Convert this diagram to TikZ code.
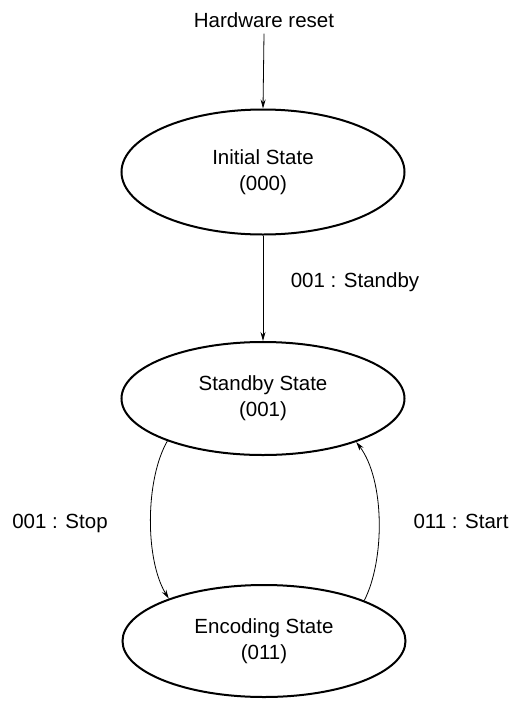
\documentclass[tikz,border=0pt]{standalone}
\usepackage{fontspec}
\setmainfont{Liberation Sans}
\usetikzlibrary{shapes.geometric,arrows.meta}
\begin{document}
\begin{tikzpicture}[x=1pt,y=-1pt,
  every node/.style={font=\fontsize{20.5}{27}\selectfont},
  statebox/.style={ellipse,draw,line width=2pt,align=center,inner sep=0pt,minimum width=283pt},
  conn/.style={line width=0.8pt,-{Stealth[length=9pt,width=5pt]}},
  lbl/.style={anchor=base}]
\useasboundingbox (0,0) rectangle (514,702);
\node[lbl] (hw) at (264,27) {Hardware reset};
\node[statebox,minimum height=125pt] (init) at (263,172) {Initial State\\[-1pt](000)};
\node[statebox,minimum height=113pt] (std) at (263,398.5) {Standby State\\[-1pt](001)};
\node[statebox,minimum height=112pt] (enc) at (264,641) {Encoding State\\[-1pt](011)};
\draw[conn] ([yshift=-3pt]hw.south) -- (init.north);
\draw[conn] (init) -- (std);
\node[lbl] (lstandby) at (355,287) {001 : Standby};
\draw[conn] (std.204) .. controls (145,480) and (145,560) .. (enc.156);
\draw[conn] (enc.22) .. controls (385,560) and (385,480) .. (std.-25);
\node[lbl] (lstop) at (60,528) {001 : Stop};
\node[lbl] (lstart) at (461,528) {011 : Start};
\end{tikzpicture}
\end{document}
